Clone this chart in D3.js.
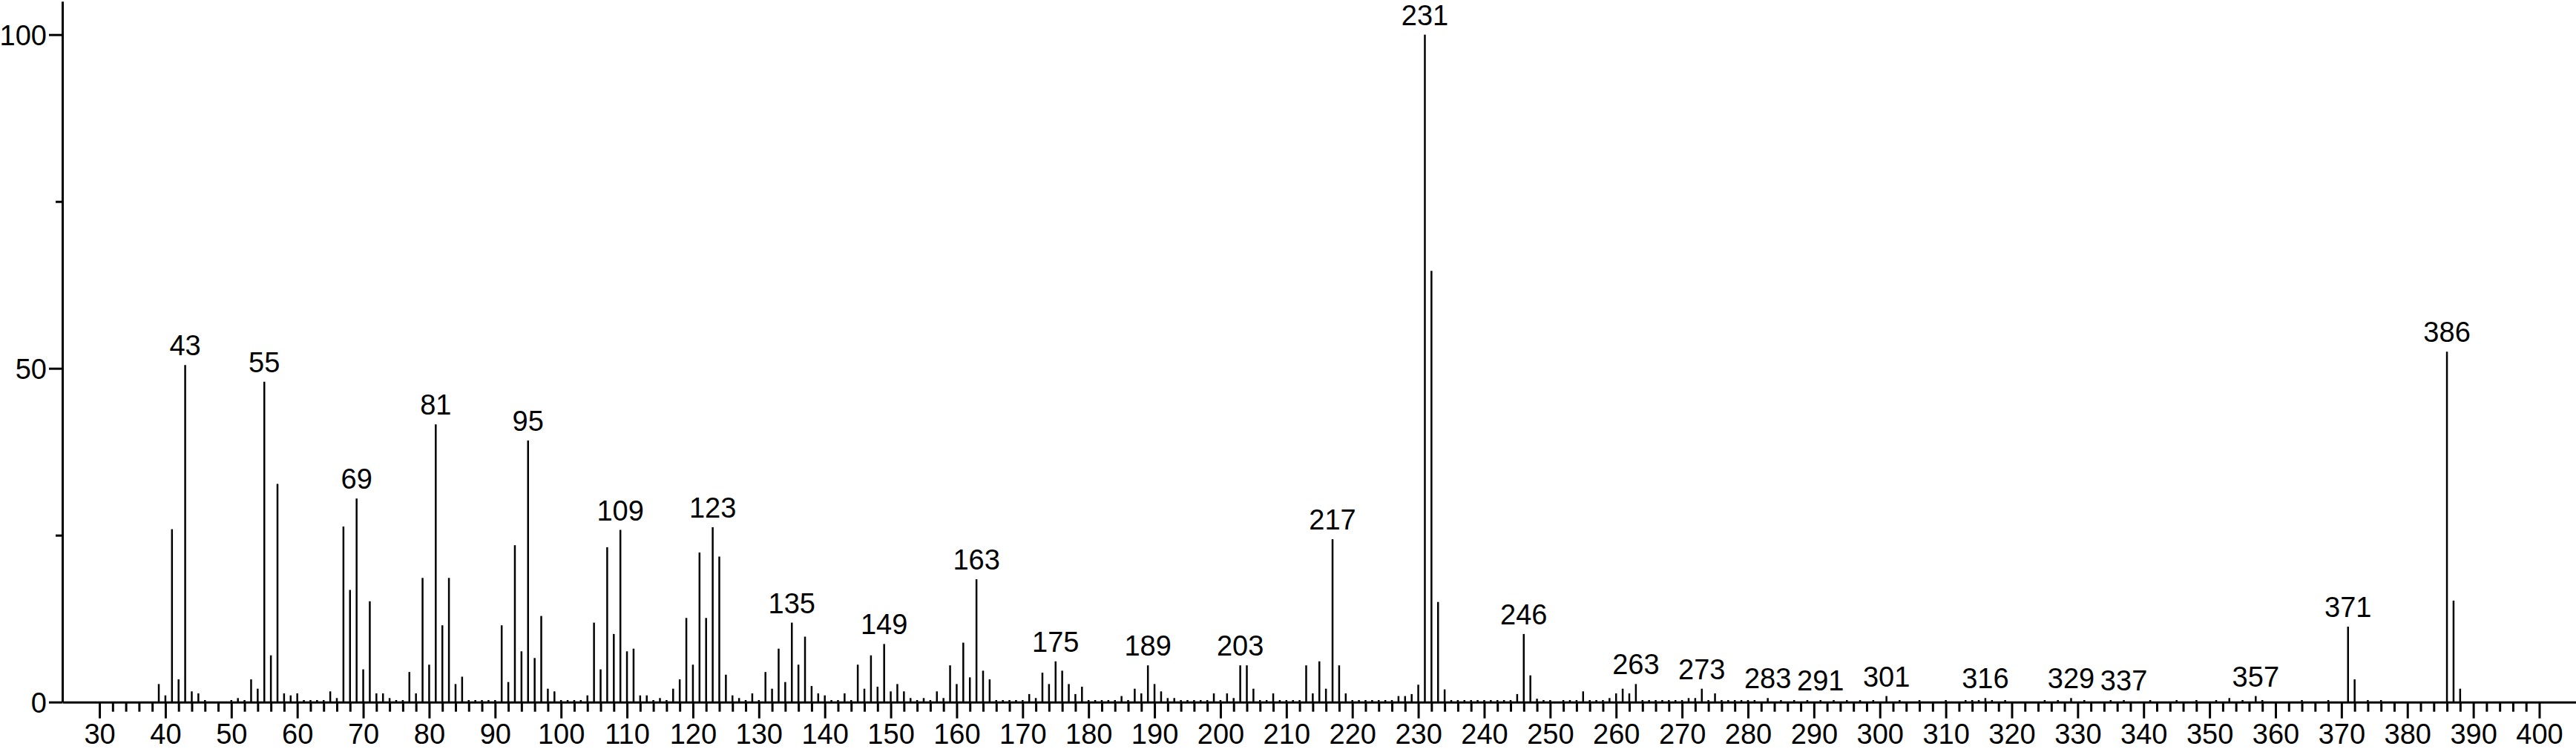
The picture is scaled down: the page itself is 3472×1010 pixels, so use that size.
<!DOCTYPE html>
<html>
<head>
<meta charset="utf-8">
<script src="https://cdn.jsdelivr.net/npm/d3@7"></script>
<style>
  body { margin: 0; background: #fff; }
  svg text { font-family: "Liberation Sans", Arial, sans-serif; fill: #000; }
</style>
</head>
<body>
<div id="viz"></div>
<script>
// m/z values of the spectrum lines
const massToCharge = [
  39, 40, 41, 42, 43, 44, 45, 46, 50, 51, 52, 53, 54, 55, 56, 57, 58, 59, 60,
  61, 62, 63, 64, 65, 66, 67, 68, 69, 70, 71, 72, 73, 74, 75, 76, 77, 78, 79, 80,
  81, 82, 83, 84, 85, 86, 87, 88, 89, 90, 91, 92, 93, 94, 95, 96, 97, 98, 99, 100,
  101, 102, 103, 104, 105, 106, 107, 108, 109, 110, 111, 112, 113, 114, 115, 116, 117, 118, 119, 120,
  121, 122, 123, 124, 125, 126, 127, 128, 129, 130, 131, 132, 133, 134, 135, 136, 137, 138, 139, 140,
  141, 142, 143, 144, 145, 146, 147, 148, 149, 150, 151, 152, 153, 154, 155, 156, 157, 158, 159, 160,
  161, 162, 163, 164, 165, 166, 167, 168, 169, 170, 171, 172, 173, 174, 175, 176, 177, 178, 179, 180,
  181, 182, 183, 184, 185, 186, 187, 188, 189, 190, 191, 192, 193, 194, 195, 196, 197, 198, 199, 200,
  201, 202, 203, 204, 205, 206, 207, 208, 209, 210, 211, 212, 213, 214, 215, 216, 217, 218, 219, 220,
  221, 222, 223, 224, 225, 226, 227, 228, 229, 230, 231, 232, 233, 234, 235, 236, 237, 238, 239, 240,
  241, 242, 243, 244, 245, 246, 247, 248, 249, 250, 252, 253, 254, 255, 256, 257, 258, 259, 260,
  261, 262, 263, 264, 265, 266, 267, 268, 269, 270, 271, 272, 273, 274, 275, 276, 277, 278, 279, 280,
  281, 283, 285, 287, 289, 291, 293, 295, 297, 299, 301, 303, 306, 310, 313, 314, 315, 316, 317, 319,
  325, 327, 329, 331, 335, 337, 341, 345, 348, 351, 353, 355, 357, 358, 364, 368, 371, 372, 374, 376,
  386, 387, 388
];

// relative abundance (%), same order as massToCharge
const relIntensity = [
  2.7, 1.0, 25.9, 3.4, 50.5, 1.6, 1.3, 0.3, 0.3, 0.6, 0.3, 3.4, 2.0, 48.0, 7.0, 32.7, 1.3, 1.0, 1.3,
  0.3, 0.3, 0.3, 0.3, 1.6, 0.6, 26.3, 16.8, 30.5, 4.9, 15.1, 1.3, 1.3, 0.6, 0.3, 0.3, 4.5, 1.3, 18.6, 5.6,
  41.6, 11.5, 18.6, 2.7, 3.8, 0.3, 0.3, 0.3, 0.3, 0.3, 11.5, 3.0, 23.5, 7.6, 39.2, 6.6, 12.9, 2.0, 1.6, 0.3,
  0.3, 0.3, 0.3, 1.0, 11.9, 4.9, 23.2, 10.2, 25.8, 7.6, 8.0, 1.0, 1.0, 0.3, 0.6, 0.3, 2.0, 3.4, 12.6, 5.6,
  22.4, 12.6, 26.2, 21.8, 4.1, 1.0, 0.6, 0.3, 1.3, 0.3, 4.5, 2.0, 8.0, 3.0, 11.9, 5.6, 9.8, 2.4, 1.3, 1.0,
  0.3, 0.3, 1.3, 0.3, 5.6, 2.0, 7.0, 2.3, 8.7, 1.6, 2.7, 1.6, 0.6, 0.3, 0.6, 0.3, 1.6, 0.6, 5.5, 2.7,
  8.9, 3.7, 18.4, 4.7, 3.4, 0.3, 0.3, 0.3, 0.3, 0.3, 1.2, 0.6, 4.4, 2.7, 6.1, 4.7, 2.7, 1.2, 2.3, 0.3,
  0.3, 0.3, 0.3, 0.3, 0.9, 0.3, 2.0, 1.3, 5.5, 2.7, 1.6, 0.6, 0.6, 0.3, 0.3, 0.3, 0.3, 0.3, 1.3, 0.3,
  1.3, 0.6, 5.5, 5.5, 2.0, 0.3, 0.3, 1.3, 0.3, 0.3, 0.3, 0.3, 5.5, 1.3, 6.1, 2.0, 24.4, 5.5, 1.3, 0.3,
  0.3, 0.3, 0.3, 0.3, 0.3, 0.3, 0.9, 0.9, 1.2, 2.6, 100, 64.6, 15.0, 1.9, 0.3, 0.3, 0.3, 0.3, 0.3, 0.3,
  0.3, 0.3, 0.3, 0.3, 1.2, 10.2, 4.0, 0.5, 0.3, 0.3, 0.3, 0.3, 0.3, 1.6, 0.3, 0.3, 0.3, 0.6, 1.3,
  2.0, 1.3, 2.7, 0.3, 0.3, 0.3, 0.3, 0.3, 0.3, 0.3, 0.6, 0.6, 2.0, 0.3, 1.3, 0.3, 0.3, 0.3, 0.3, 0.3,
  0.3, 0.6, 0.3, 0.3, 0.3, 0.3, 0.3, 0.3, 0.3, 0.3, 0.9, 0.3, 0.3, 0.3, 0.3, 0.3, 0.3, 0.6, 0.3, 0.3,
  0.3, 0.3, 0.6, 0.3, 0.3, 0.3, 0.3, 0.3, 0.3, 0.3, 0.6, 0.3, 0.9, 0.3, 0.3, 0.3, 11.3, 3.4, 0.3, 0.3,
  52.5, 15.2, 2.0
];

// peaks that carry an m/z label
const labeledPeaks = [43, 55, 69, 81, 95, 109, 123, 135, 149, 163, 175, 189, 203, 217, 231,
  246, 263, 273, 283, 291, 301, 316, 329, 337, 357, 371, 386];

const xTickValues = d3.range(30, 401, 2); // every 2, labelled every 10
const yTickValues = [0, 25, 50, 75, 100]; // labelled at 0, 50, 100

const width = 3472;
const height = 1010;
const barWidth = 2.5;
const axisWidth = 3;
const fontSize = 38;

const svg = d3.select('#viz')
  .append('svg')
    .attr('width', width)
    .attr('height', height);

const xScale = d3.scaleLinear()
  .domain([24.37, 405.57])
  .range([84, width]);

const yScale = d3.scaleLinear()
  .domain([0, 105])
  .range([946.7, 1.7]);

const spectrum = massToCharge.map((m, i) => ({mz: m, value: relIntensity[i]}));

// bars (drawn first so the axis sits on top)
svg.append('g')
  .selectAll('line')
  .data(spectrum)
  .join('line')
    .attr('x1', d => xScale(d.mz))
    .attr('x2', d => xScale(d.mz))
    .attr('y1', yScale(0))
    .attr('y2', d => yScale(d.value))
    .attr('stroke', '#000')
    .attr('stroke-width', barWidth);

// x axis
const xAxis = svg.append('g')
  .attr('transform', `translate(0, ${yScale(0)})`)
  .call(d3.axisBottom(xScale)
    .tickValues(xTickValues)
    .tickSizeOuter(0)
    .tickFormat(d => d % 10 === 0 ? d : ''));

xAxis.selectAll('.tick line')
  .attr('y2', d => d % 10 === 0 ? 22 : 13)
  .attr('stroke-width', axisWidth);
xAxis.selectAll('.tick text')
  .attr('y', 56)
  .attr('dy', 0)
  .style('font-size', fontSize + 'px');

// y axis
const yAxis = svg.append('g')
  .attr('transform', `translate(${xScale.range()[0]}, 0)`)
  .call(d3.axisLeft(yScale)
    .tickValues(yTickValues)
    .tickSizeOuter(0)
    .tickFormat(d => d % 50 === 0 ? d : ''));

yAxis.selectAll('.tick line')
  .attr('x2', d => d % 50 === 0 ? -18 : -9)
  .attr('stroke-width', axisWidth);
yAxis.selectAll('.tick text')
  .attr('x', -21)
  .attr('dy', '0.36em')
  .style('font-size', fontSize + 'px');

svg.selectAll('.domain')
  .attr('stroke', '#000')
  .attr('stroke-width', axisWidth);
svg.selectAll('.tick line').attr('stroke', '#000');

// peak labels
svg.append('g')
  .selectAll('text')
  .data(spectrum.filter(d => labeledPeaks.includes(d.mz)))
  .join('text')
    .attr('x', d => xScale(d.mz))
    .attr('y', d => yScale(d.value) - 13)
    .attr('text-anchor', 'middle')
    .style('font-size', fontSize + 'px')
    .text(d => d.mz);
</script>
</body>
</html>
